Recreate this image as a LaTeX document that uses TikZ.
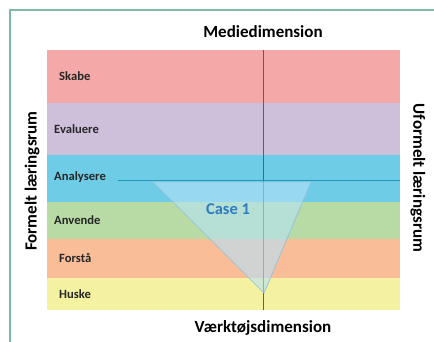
\documentclass[tikz,border=0pt]{standalone}
\usepackage{fontspec}
\setmainfont{Carlito}
\usepackage{tikz}
\usetikzlibrary{positioning}

\definecolor{skabecol}{HTML}{F4A9A8}
\definecolor{evalcol}{HTML}{CEC0DA}
\definecolor{analcol}{HTML}{6FCCE6}
\definecolor{anvcol}{HTML}{B8DBA6}
\definecolor{forstcol}{HTML}{F9BE98}
\definecolor{huskcol}{HTML}{F4F1A1}
\definecolor{framecol}{HTML}{7DBBA5}
\definecolor{axisblue}{HTML}{2E6DA4}
\definecolor{trifill}{HTML}{B5E2F7}
\definecolor{triedge}{HTML}{8FC0E0}
\definecolor{casecol}{HTML}{2E7CC0}

\begin{document}
\begin{tikzpicture}[
        x = 1pt,
        y = -1pt,
        band/.style = {
            fill = #1,
            draw = none,
            minimum width = 353pt,
            inner sep = 0pt,
            outer sep = 0pt
        },
        level/.style = {
            font = \fontsize{12.6}{12.6}\selectfont\bfseries,
            text = black!85,
            anchor = west,
            inner sep = 0pt
        },
        dimension/.style = {
            font = \fontsize{17}{17}\selectfont\bfseries,
            inner sep = 0pt
        },
        axis/.style = {draw = axisblue, line width = 0.8pt}
        ]
%
        \useasboundingbox (0,0) rectangle (434,342);
        \draw[framecol, line width=1.5pt] (434,10) -- (10,10) -- (10,342);
%
        \node[band=skabecol, minimum height=53pt, anchor=north west] (skabe) at (47,50) {};
        \node[band=evalcol, minimum height=52pt] (evaluere) [below=0pt of skabe] {};
        \node[band=analcol, minimum height=47pt] (analysere) [below=0pt of evaluere] {};
        \node[band=anvcol, minimum height=37pt] (anvende) [below=0pt of analysere] {};
        \node[band=forstcol, minimum height=39pt] (forstaa) [below=0pt of anvende] {};
        \node[band=huskcol, minimum height=32pt] (huske) [below=0pt of forstaa] {};
%
        \node[level] (l1) at ([xshift=12pt]skabe.west) {Skabe};
        \node[level] (l2) at ([xshift=7pt]evaluere.west) {Evaluere};
        \node[level] (l3) at ([xshift=7pt, yshift=1pt]analysere.west) {Analysere};
        \node[level] (l4) at ([xshift=7pt]anvende.west) {Anvende};
        \node[level] (l5) at ([xshift=12pt, yshift=1pt]forstaa.west) {Forstå};
        \node[level] (l6) at ([xshift=12pt]huske.west) {Huske};
%
        \coordinate (vtop) at (263,50);
        \coordinate (vbot) at (263,310);
        \coordinate (hleft) at (118,180);
        \coordinate (hright) at (400,180);
        \draw[axis] (vtop) -- (vbot);
        \draw[axis, draw=axisblue!70!cyan] (hleft) -- (hright);
%
        \coordinate (tl) at (153,182);
        \coordinate (tr) at (311,182);
        \coordinate (tb) at (264,293);
        \draw[fill=trifill, fill opacity=0.6, draw=triedge, line width=0.7pt] (tl) -- (tr) -- (tb) -- cycle;
        \node[dimension, font=\fontsize{16.5}{16.5}\selectfont\bfseries, text=casecol] (case) at (228,209) {Case 1};
%
        \node[dimension] (medie) at (263,32) {Mediedimension};
        \node[dimension] (vaerktoej) at (263,328) {Værktøjsdimension};
        \node[dimension, rotate=90] (formel) at (32,181) {Formelt læringsrum};
        \node[dimension, rotate=-90] (uformel) at (418,178) {Uformelt læringsrum};
    \end{tikzpicture}
\end{document}
